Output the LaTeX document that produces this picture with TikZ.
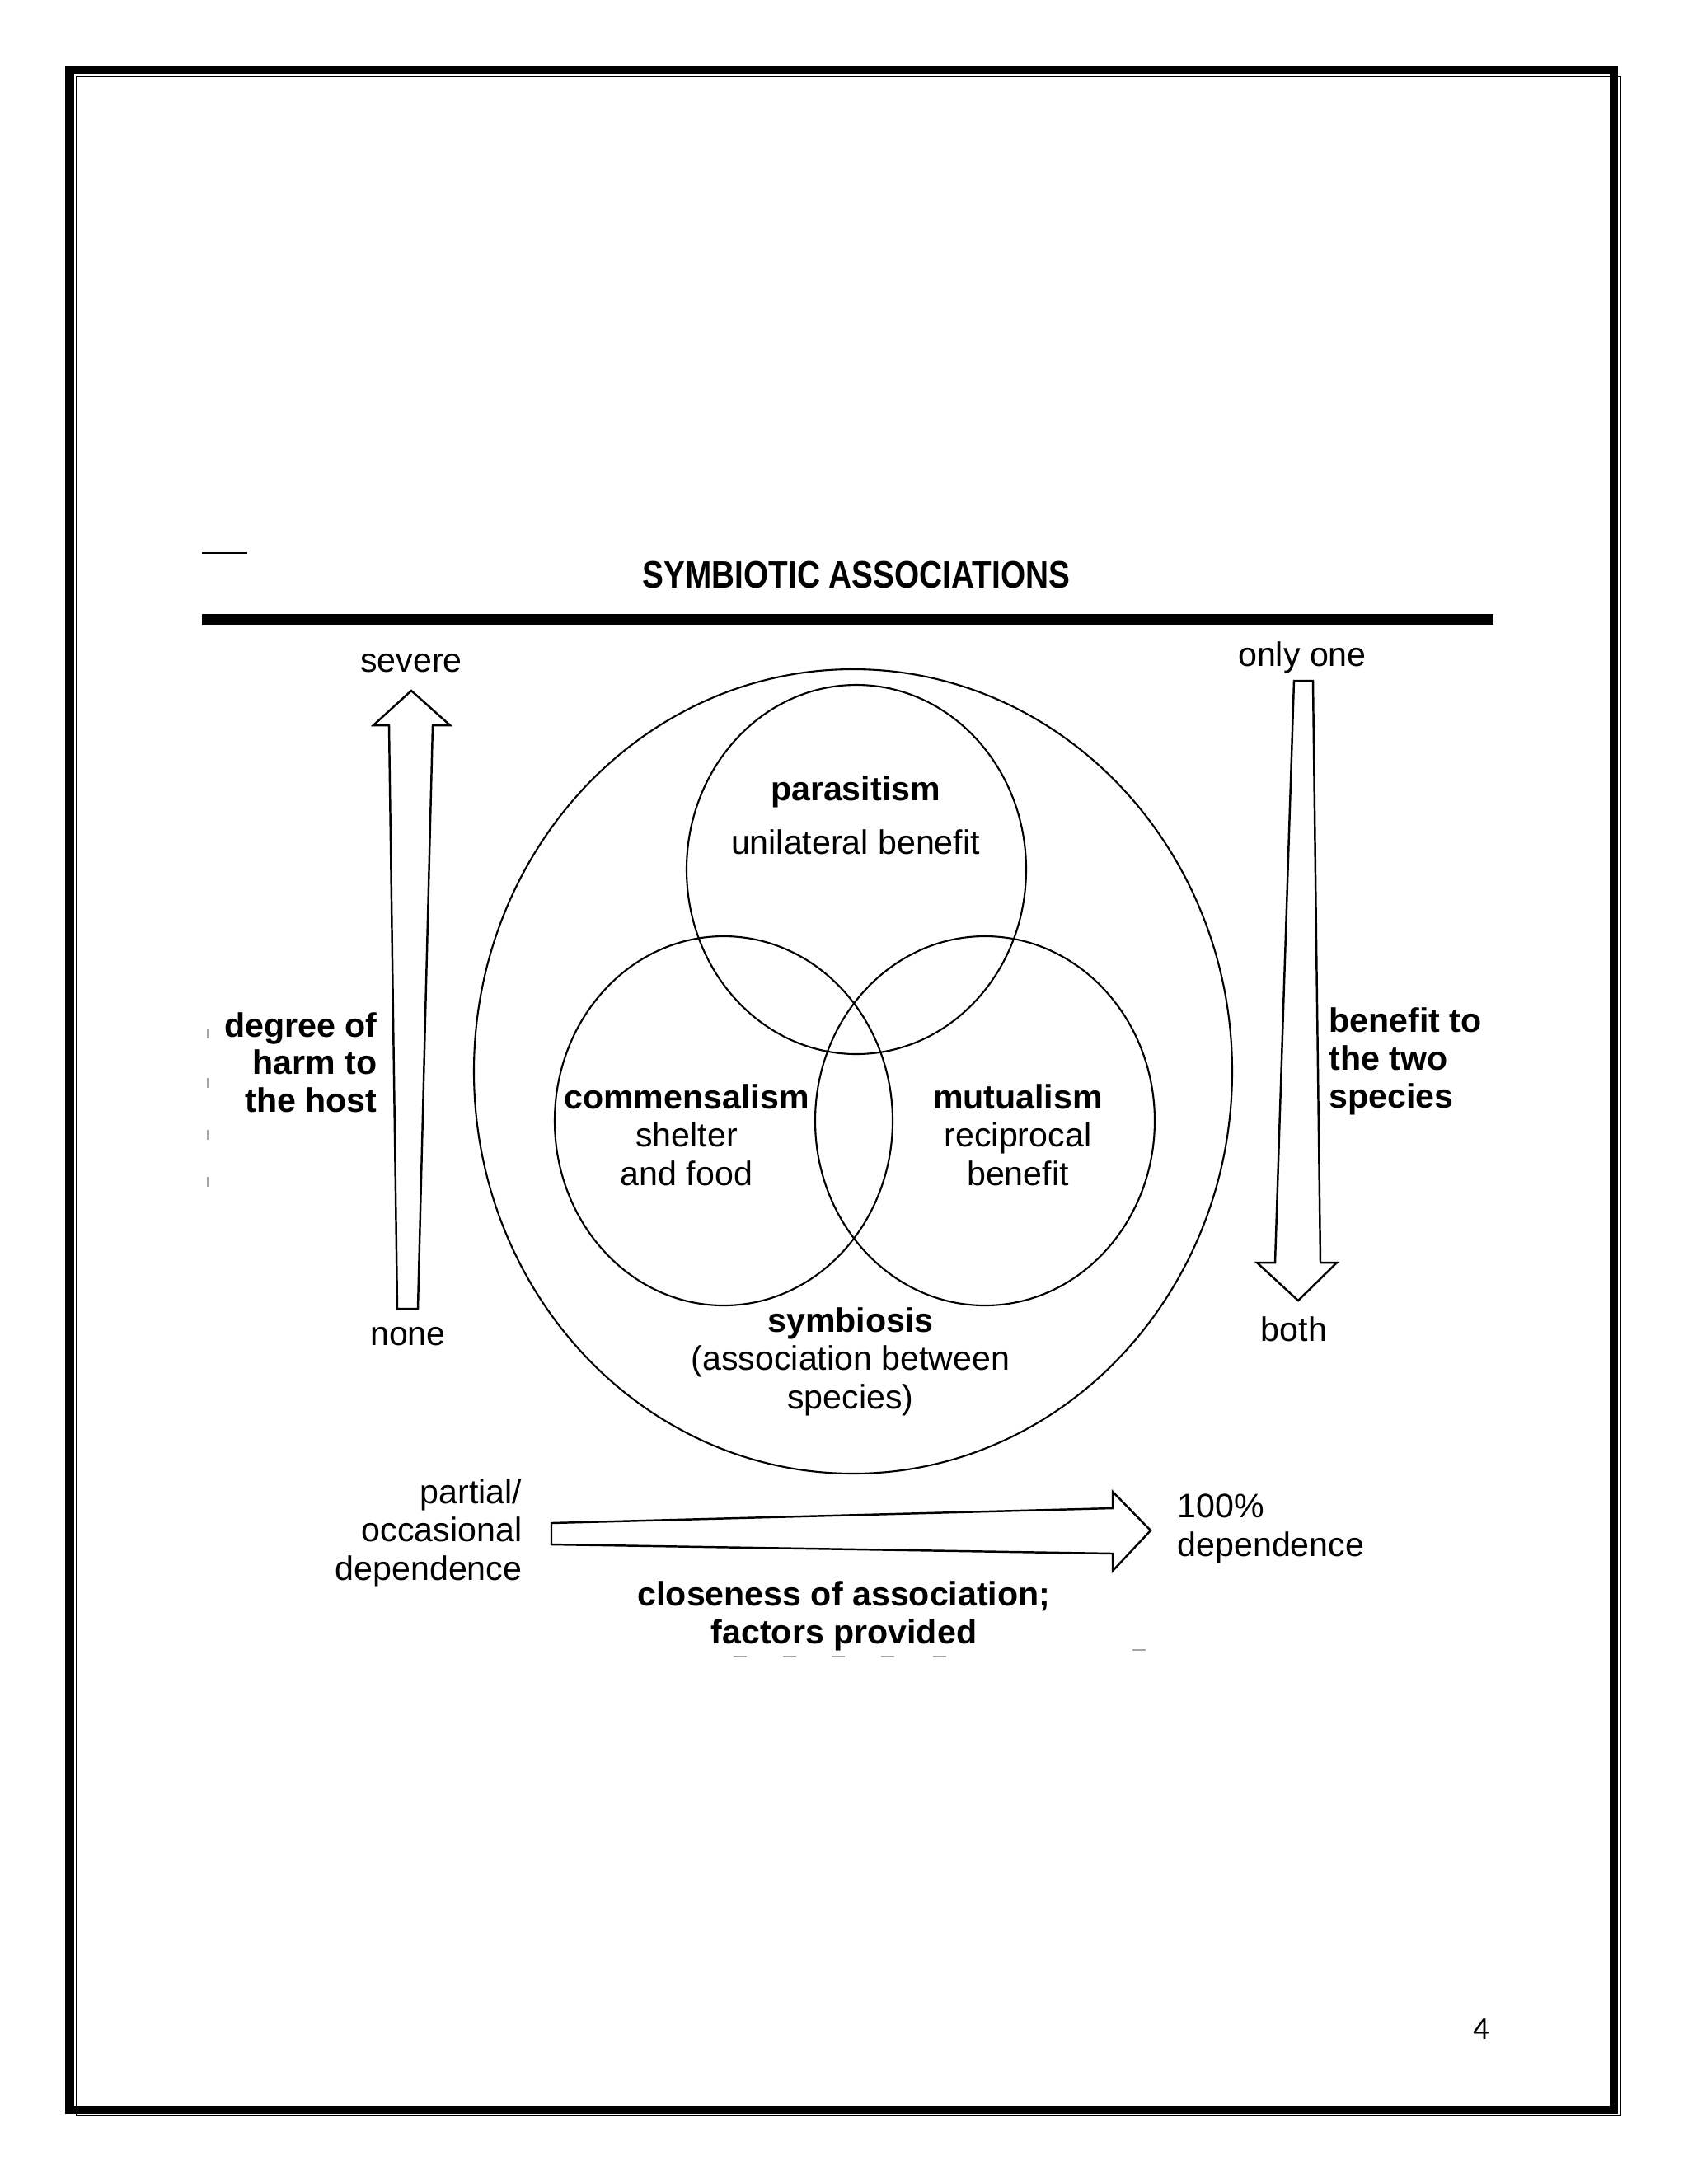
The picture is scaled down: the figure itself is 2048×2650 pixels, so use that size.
\documentclass[tikz,border=0pt]{standalone}
\usepackage{fontspec}
\setmainfont{Liberation Sans}
\newfontfamily\pagenumfont{Carlito}
\usetikzlibrary{positioning}

\tikzset{
  lbl/.style={font=\fontsize{11.7pt}{13.2pt}\selectfont, inner sep=0pt, align=center},
  lblbold/.style={lbl, font=\fontsize{11.7pt}{13pt}\selectfont\bfseries},
  ring/.style={line width=0.6pt},
  fatarrow/.style={line width=0.7pt, fill=white, line join=miter},
  speck/.style={gray!70, line width=0.7pt},
}

\begin{document}
\begin{tikzpicture}[x=0.01cm, y=-0.01cm]
\useasboundingbox (0,0) rectangle (2048,2650);

% 1. Page border (thick + thin)
\draw[line width=2.85pt] (84.5,84.5) rectangle (1958,2560);
\draw[line width=0.6pt] (93,93) rectangle (1966,2567);

% 2. Title and rule
\draw[line width=0.8pt] (245,671) -- (300,671);
\node[font=\fontsize{13.2pt}{15pt}\selectfont\bfseries, inner sep=0pt] (title) at (1039,698)
     {\scalebox{0.835}[1]{SYMBIOTIC ASSOCIATIONS}};
\draw[line width=3.7pt] (245,751.5) -- (1812,751.5);

% 3. Circles
\coordinate (symb) at (1035,1300);
\coordinate (parc) at (1039,1055);
\coordinate (comc) at (878,1360);
\coordinate (mutc) at (1195,1360);
\draw[ring] (symb) ellipse [x radius=460, y radius=488];
\draw[ring] (parc) ellipse [x radius=206, y radius=224];
\draw[ring] (comc) ellipse [x radius=205, y radius=224];
\draw[ring] (mutc) ellipse [x radius=206, y radius=224];

% 4. Wedge arrows
% harm (up)
\draw[fatarrow] (482,1588) -- (507,1588) -- (525,880) -- (546,880) -- (499,838)
     -- (453,880) -- (472,880) -- cycle;
% benefit (down)
\draw[fatarrow] (1570,826) -- (1593,826) -- (1602,1532) -- (1622,1532) -- (1575,1578)
     -- (1525,1532) -- (1547,1532) -- cycle;
% closeness (right)
\draw[fatarrow] (669,1848) -- (669,1874) -- (1350,1885) -- (1350,1906) -- (1396,1857)
     -- (1350,1810) -- (1350,1830) -- cycle;

% 5. Labels
\node[lbl] (severe) at (499,805) {severe};
\node[lbl] (none) at (495,1622) {none};
\node[lblbold, align=right, anchor=east] (harm) at (458,1289) {degree of\\harm to\\the host};
\node[lbl] (onlyone) at (1580,798) {only one};
\node[lbl] (both) at (1570,1613) {both};
\node[lblbold, align=left, anchor=west] (benefit) at (1612,1288) {benefit to\\the two\\species};
\node[lblbold] (para) at (1038,961) {parasitism};
\node[lbl] (paratxt) at (1038,1022) {unilateral benefit};
\node[lbl] (comm) at (833,1377) {\textbf{commensalism}\\shelter\\and food};
\node[lbl] (mutu) at (1235,1377) {\textbf{mutualism}\\reciprocal\\benefit};
\node[lbl] (symbio) at (1032,1652) {\textbf{symbiosis}\\(association between\\species)};
\node[lbl, align=right, anchor=east] (partial) at (634,1860) {partial/\\occasional\\dependence};
\node[lbl, align=left, anchor=west] (full) at (1428,1855) {100\%\\dependence};
\node[lblbold] (close) at (1024,1961) {closeness of association;\\factors provided};
\node[font=\pagenumfont\fontsize{11pt}{13pt}\selectfont, inner sep=0pt] (pagenum) at (1797,2462) {4};

% 6. Scan marks
\foreach \y in {1248,1308,1371,1428}
  \draw[speck] (252,\y) -- (252,\y+12);
\foreach \x in {898,958,1017,1077,1140}
  \draw[speck] (\x-8,2010) -- (\x+8,2010);
\draw[speck] (1374,2002) -- (1390,2002);

\end{tikzpicture}
\end{document}
